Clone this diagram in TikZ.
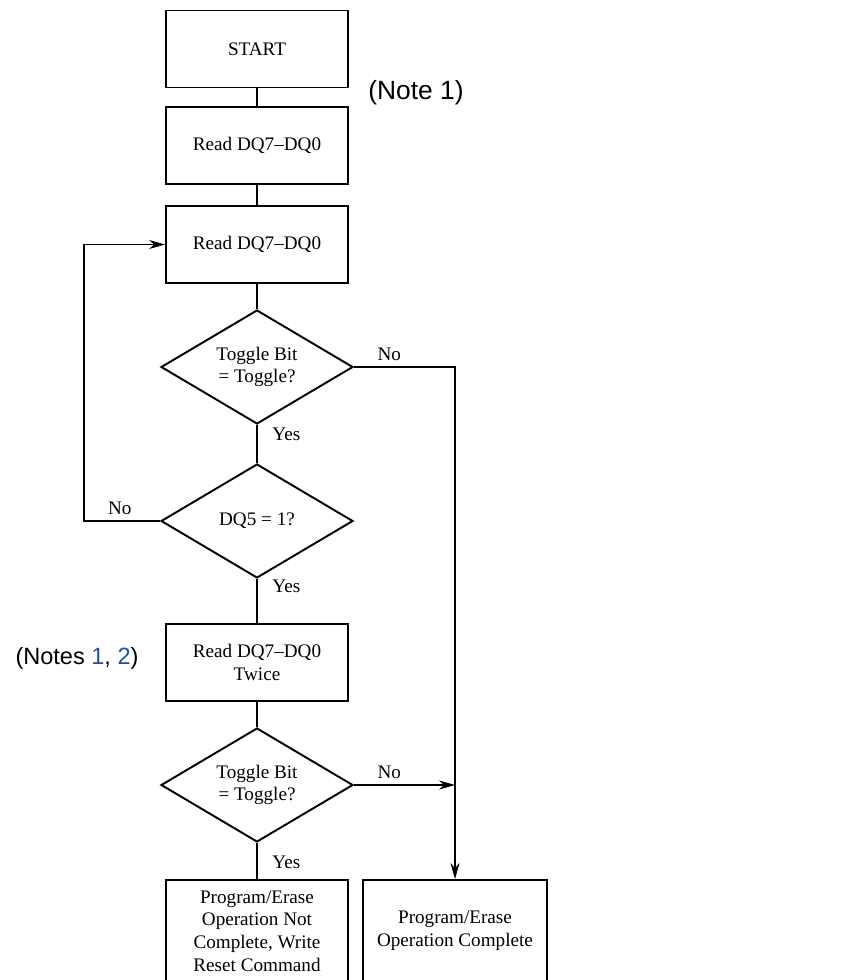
\documentclass[tikz,border=0pt]{standalone}
\usepackage{fontspec}
\setmainfont{Liberation Serif}
\newfontfamily\notefont{Liberation Sans}
\usetikzlibrary{shapes.geometric,arrows.meta}
\definecolor{noteblue}{RGB}{30,80,170}
\tikzset{
    box/.style={draw, line width=1.1pt, minimum width=3.64cm, minimum height=1.54cm, align=center, inner sep=2pt},
    decision/.style={draw, diamond, aspect=1.68, line width=1.1pt, minimum width=3.84cm, minimum height=2.28cm, align=center, inner sep=0pt},
    link/.style={line width=0.6pt},
    note/.style={font=\notefont\fontsize{13.4}{16}\selectfont}
}
\begin{document}
\begin{tikzpicture}[x=0.02cm, y=-0.02cm, >={Stealth[length=0.32cm,width=0.18cm]}, font=\fontsize{10.9}{12.9}\selectfont]
    \useasboundingbox (0,0) rectangle (850,980);
    \clip (0,0) rectangle (850,980);
\node[box] (start) at (257,49) {START};
\node[box] (read1) at (257,145.5) {Read DQ7--DQ0};
\node[box] (read2) at (257,244.5) {Read DQ7--DQ0};
\node[decision] (tog1) at (257,367) {Toggle Bit\\= Toggle?};
\node[decision] (dq5) at (257,521) {DQ5 = 1?};
\node[box] (twice) at (257,662.5) {Read DQ7--DQ0\\Twice};
\node[decision] (tog2) at (257,785) {Toggle Bit\\= Toggle?};
\node[box, minimum height=2.04cm] (fail) at (257,931) {Program/Erase\\Operation Not\\Complete, Write\\Reset Command};
\node[box, minimum width=3.68cm, minimum height=2.04cm] (done) at (455,931) {Program/Erase\\Operation Complete};
\node[note, font=\notefont\fontsize{15}{18}\selectfont] (note1) at (416,93) {(Note 1)};
\node[note] (note2) at (77,658) {(Notes \textcolor{noteblue}{1}, \textcolor{noteblue}{2})};
\coordinate (loopx) at (84,0);

% main column
\draw[link](start)--(read1);
\draw[link](read1)--(read2);
\draw[link](read2)--(tog1);
\draw[link](tog1)--node[right=0.18cm, pos=.25]{Yes}(dq5);
\draw[link](dq5)--node[right=0.18cm, pos=.17]{Yes}(twice);
\draw[link](twice)--(tog2);
\draw[link](tog2)--node[right=0.18cm, pos=.54]{Yes}(fail);

% branches
\draw[link,->](dq5.west)--node[above, pos=.53]{No}(dq5.west -| loopx)|-(read2.west);
\draw[link,->](tog1.east)--node[above, pos=.35]{No}(tog1.east -| done.north)--(done.north);
\draw[link,->](tog2.east)--node[above, pos=.35]{No}(tog2.east -| done.north);

\end{tikzpicture}
\end{document}
